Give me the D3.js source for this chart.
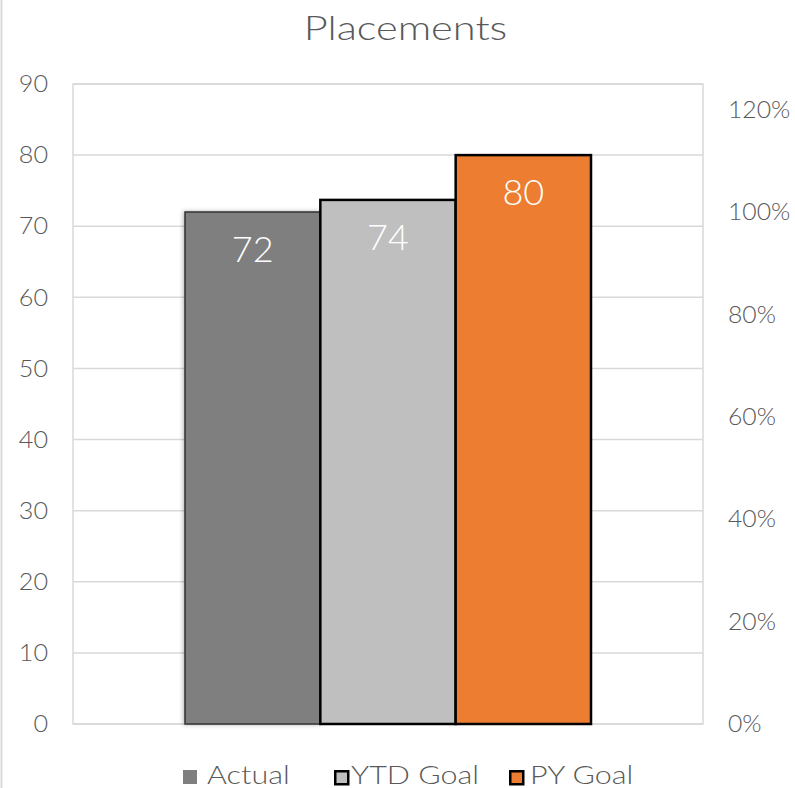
<!DOCTYPE html>
<html><head><meta charset="utf-8">
<script src="https://cdn.jsdelivr.net/npm/d3@7"></script>
<style>body{margin:0;background:#fff}svg{display:block}text{font-family:"Lato","Open Sans",sans-serif;}</style>
</head><body>
<svg id="c" width="795" height="788"></svg>
<script>
const series = ["Actual", "YTD Goal", "PY Goal"];
const values = [72, 73.7, 80];
const labels = ["72", "74", "80"];
const colors = ["#7f7f7f", "#bfbfbf", "#ed7d31"];
const leftTicks = [0,10,20,30,40,50,60,70,80,90];
const rightTicks = [0,0.2,0.4,0.6,0.8,1.0,1.2];

const svg = d3.select("#c");
const L = 73, R = 703, T = 84, B = 724;
const y = d3.scaleLinear().domain([0, 90]).range([B, T]);
const y2 = d3.scaleLinear().domain([0, 1.25]).range([B, T]);
const x = d3.scaleBand().domain(series).range([185, 591]).padding(0);
const FW = 300;

svg.append("line").attr("x1",1.5).attr("x2",1.5).attr("y1",0).attr("y2",788).attr("stroke","#d9d9d9").attr("stroke-width",2);

svg.append("g").attr("transform","translate(405.5,40) scale(1.26,1)")
  .append("text").attr("x",0).attr("y",0).attr("text-anchor","middle").attr("fill","#595959")
  .attr("font-size",33).attr("font-weight",FW).text("Placements");

// gridlines
svg.append("g").selectAll("line").data(leftTicks).join("line")
  .attr("x1",L).attr("x2",R).attr("y1",d=>y(d)).attr("y2",d=>y(d)).attr("stroke","#d9d9d9").attr("stroke-width",1.5);
svg.append("rect").attr("x",L).attr("y",T).attr("width",R-L).attr("height",B-T).attr("fill","none").attr("stroke","#d9d9d9").attr("stroke-width",1.5);

// left axis
const ax = d3.axisLeft(y).tickValues(leftTicks).tickSize(0).tickPadding(0);
const gl = svg.append("g").attr("transform",`translate(48,0)`).call(ax);
gl.select(".domain").remove();
gl.selectAll("text").attr("fill","#595959").attr("font-size",24).attr("font-weight",FW)
  .attr("font-family","Lato, 'Open Sans', sans-serif").attr("transform","scale(1.05,1)");

// right axis
const ax2 = d3.axisRight(y2).tickValues(rightTicks).tickFormat(d3.format(".0%")).tickSize(0).tickPadding(0);
const gr = svg.append("g").attr("transform",`translate(728,0)`).call(ax2);
gr.select(".domain").remove();
gr.selectAll("text").attr("fill","#595959").attr("font-size",24).attr("font-weight",FW)
  .attr("font-family","Lato, 'Open Sans', sans-serif").attr("transform","scale(1.03,1)");

// bars
const defs = svg.append("defs");
const f = defs.append("filter").attr("id","sh").attr("x","-10%").attr("y","-10%").attr("width","130%").attr("height","130%");
f.append("feDropShadow").attr("dx",-1).attr("dy",0).attr("stdDeviation",2).attr("flood-color","#000").attr("flood-opacity",0.3);

svg.append("g").selectAll("rect").data(series).join("rect")
  .attr("x",d=>x(d)).attr("width",x.bandwidth())
  .attr("y",(d,i)=>y(values[i])).attr("height",(d,i)=>B-y(values[i]))
  .attr("fill",(d,i)=>colors[i])
  .attr("stroke",(d,i)=>i===0?"#333":"#000").attr("stroke-width",(d,i)=>i===0?1.5:2.5)
  .attr("filter",(d,i)=>i===0?"url(#sh)":null);

svg.append("g").selectAll("text").data(series).join("text")
  .attr("x",d=>x(d)+x.bandwidth()/2).attr("y",(d,i)=>y(values[i])+50)
  .attr("text-anchor","middle").attr("fill","#fff").attr("font-size",36).attr("font-weight",FW)
  .text((d,i)=>labels[i]);

// legend
const legX = [183, 334, 509];
const legT = [207, 351, 530];
const lg = svg.append("g").selectAll("g").data(series).join("g").attr("transform",(d,i)=>`translate(${legX[i]},770)`);
lg.append("rect").attr("x",(d,i)=>i===0?0:1.25).attr("y",(d,i)=>i===0?0:1.25)
  .attr("width",(d,i)=>i===0?14:13).attr("height",(d,i)=>i===0?14:13)
  .attr("fill",(d,i)=>colors[i]).attr("stroke",(d,i)=>i===0?"none":"#000").attr("stroke-width",2.5);
svg.append("g").selectAll("g").data(series).join("g")
  .attr("transform",(d,i)=>`translate(${legT[i]},784) scale(1.22,1)`)
  .append("text").attr("x",0).attr("y",0).attr("fill","#595959").attr("font-size",25).attr("font-weight",FW).text(d=>d);
</script>
</body></html>
